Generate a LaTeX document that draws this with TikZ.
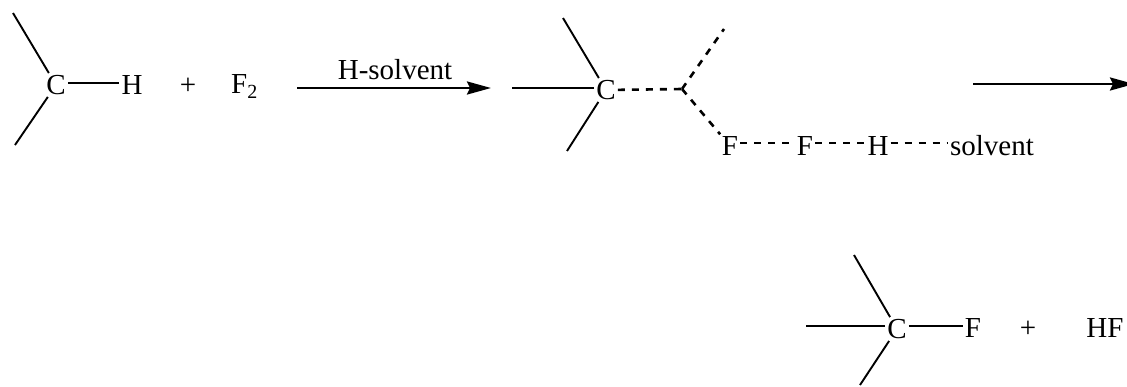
\documentclass[tikz,border=0pt]{standalone}
\usepackage{fontspec}
\setmainfont{Liberation Serif}
\usetikzlibrary{arrows.meta}
\tikzset{
  atom/.style={inner sep=2pt,font=\fontsize{29}{32}\selectfont},
  bond/.style={line width=1.9pt},
  hbond/.style={line width=2.6pt},
  partial/.style={line width=2.6pt,dash pattern=on 7pt off 7pt},
  rxn/.style={line width=2.6pt,-{Stealth[length=24pt,width=13pt,inset=3pt]}}
}
\begin{document}
\begin{tikzpicture}[x=1pt,y=-1pt]
        \useasboundingbox (0,0) rectangle (1127,386);
        % reactants
        \node[atom] (c1) at (56,85) {C};
        \node[atom] (h1) at (132,85) {H};
        \node[atom] (plus1) at (188,86) {+};
        \node[atom,anchor=base west] (f2) at (229,93) {F\raisebox{-5pt}{\fontsize{20}{20}\selectfont 2}};
        \coordinate (c1a) at (13,13);
        \coordinate (c1b) at (15,145);
        \draw[bond] (c1) -- (c1a) (c1) -- (c1b);
        \draw[hbond] ([yshift=2pt]c1.east) -- ([yshift=2pt]h1.west);
        % first arrow
        \coordinate (a1s) at (297,88);
        \coordinate (a1e) at (491,88);
        \draw[rxn] (a1s) -- (a1e);
        \node[atom] (hsolv) at (395,70) {H-solvent};
        % transition state
        \node[atom] (c2) at (606,90) {C};
        \coordinate (c2a) at (563,18);
        \coordinate (c2b) at (512,88);
        \coordinate (c2c) at (567,151);
        \draw[bond] (c2) -- (c2a) (c2) -- (c2c);
        \draw[hbond] ([yshift=2pt]c2.west) -- (c2b);
        \coordinate (j) at (682,89);
        \coordinate (ja) at (724,29);
        \node[atom] (f3) at (730,146) {F};
        \node[atom] (f4) at (805,146) {F};
        \node[atom] (h2) at (878,146) {H};
        \node[atom] (solv) at (992,146) {solvent};
        \draw[partial] (c2) -- (j);
        \draw[partial] (j) -- (ja);
        \draw[partial] (j) -- (f3);
        \draw[partial] ([yshift=3pt]f3.east) -- ([yshift=3pt]f4.west);
        \draw[partial] ([yshift=3pt]f4.east) -- ([yshift=3pt]h2.west);
        \draw[partial] ([yshift=3pt]h2.east) -- ([yshift=3pt]solv.west);
        % second arrow
        \coordinate (a2s) at (973,84);
        \coordinate (a2e) at (1134,84);
        \draw[rxn] (a2s) -- (a2e);
        % products
        \node[atom] (c3) at (897,329) {C};
        \node[atom] (f5) at (973,328) {F};
        \node[atom] (plus2) at (1028,329) {+};
        \node[atom] (hf) at (1105,328) {HF};
        \coordinate (c3a) at (854,255);
        \coordinate (c3b) at (806,326);
        \coordinate (c3c) at (860,385);
        \draw[bond] (c3) -- (c3a) (c3) -- (c3c);
        \draw[hbond] ([yshift=3pt]c3.west) -- (c3b);
        \draw[hbond] ([yshift=3pt]c3.east) -- ([yshift=2pt]f5.west);
      \end{tikzpicture}
\end{document}
